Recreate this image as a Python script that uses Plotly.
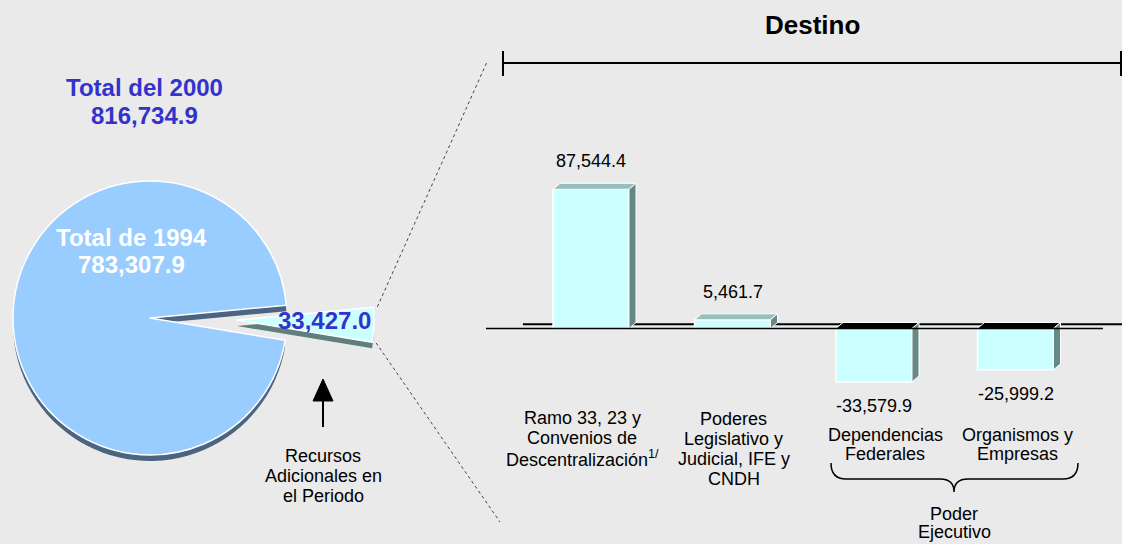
import plotly.graph_objects as go
import math

# Totales del gasto (millones de pesos)
total_1994 = 783307.9
adicional = 33427.0
total_2000 = 816734.9

pie_labels = ["Recursos Adicionales en el Periodo", "Total de 1994"]
pie_values = [adicional, total_1994]

# Destino de los recursos adicionales
categorias = [
    ["Ramo 33, 23 y", "Convenios de", "Descentralización<sup>1/</sup>"],
    ["Poderes", "Legislativo y", "Judicial, IFE y", "CNDH"],
    ["Dependencias", "Federales"],
    ["Organismos y", "Empresas"],
]
variacion = [87544.4, 5461.7, -33579.9, -25999.2]

# ---------------------------------------------------------------- canvas
W, H = 1122, 544
FONT = "Liberation Sans, Arial, sans-serif"
BG = "#eaeaea"


def px(x):
    return x / W


def py(y):
    return 1 - y / H


fig = go.Figure()

# ---------------------------------------------------------------- pie
R = 137            # pie radius in px
SHADOW = 6         # extrusion depth of the pie in px
MAIN_C = (150, 318)
SLICE_C = (237, 320)
SLICE_DIR = -2     # direction (math degrees) of the detached slice

slice_deg = 360 * adicional / sum(pie_values)
rotation = (90 - SLICE_DIR) - slice_deg / 2
CLEAR = "rgba(0,0,0,0)"


def pie_trace(center, colors, widths, drop=0):
    cx, cy = center
    cy += drop
    return go.Pie(
        values=pie_values, labels=pie_labels, sort=False,
        direction="clockwise", rotation=rotation,
        domain=dict(x=[px(cx - R), px(cx + R)], y=[py(cy + R), py(cy - R)]),
        marker=dict(colors=colors, line=dict(color="white", width=widths)),
        textinfo="none", textposition="none",
        hoverinfo="skip", showlegend=False,
    )


fig.add_trace(pie_trace(MAIN_C, [CLEAR, "#4b6480"], [0, 0], SHADOW))
fig.add_trace(pie_trace(MAIN_C, [CLEAR, "#99ccff"], [0, 1.5]))
fig.add_trace(pie_trace(SLICE_C, ["#5f7f7a", CLEAR], [0, 0], SHADOW))
fig.add_trace(pie_trace(SLICE_C, ["#ccffff", CLEAR], [1.5, 0]))

# ---------------------------------------------------------------- bars
pos = list(range(len(variacion)))
BAR_W = 0.537
DX = 0.0495        # depth of the 3-D faces along x (axis units)
DY = 3774          # depth of the 3-D faces along y (axis units)

fig.add_trace(go.Bar(
    x=pos, y=variacion, width=BAR_W,
    marker=dict(color="#ccffff", line=dict(color="white", width=1.5)),
    hoverinfo="skip", showlegend=False,
))

for p, v in zip(pos, variacion):
    x0, x1 = p - BAR_W / 2, p + BAR_W / 2
    top = max(v, 0)
    # top face
    fig.add_trace(go.Scatter(
        x=[x0, x0 + DX, x1 + DX, x1, x0],
        y=[top, top + DY, top + DY, top, top],
        mode="lines", fill="toself",
        fillcolor="#98bfbd" if v > 0 else "#000000",
        line=dict(color="white", width=1),
        hoverinfo="skip", showlegend=False,
    ))
    # side face
    fig.add_trace(go.Scatter(
        x=[x1, x1 + DX, x1 + DX, x1, x1],
        y=[0, DY, v + DY, v, 0],
        mode="lines", fill="toself", fillcolor="#658985",
        line=dict(color="white", width=1),
        hoverinfo="skip", showlegend=False,
    ))

# value labels
for p, v in zip(pos, variacion):
    fig.add_annotation(
        x=p, y=v, xref="x", yref="y", text=f"{v:,.1f}", showarrow=False,
        yanchor="middle", yshift=28 if v > 0 else -24,
        font=dict(family=FONT, size=18, color="#000000"),
    )

# category labels, one line at a time
label_x_shift = [-9, 1, 11, 2]
label_top = [418, 419, 435, 435]
label_step = [20, 20, 18.5, 18.5]
for p, lines, xs, y0, step in zip(pos, categorias, label_x_shift, label_top, label_step):
    for k, line in enumerate(lines):
        fig.add_annotation(
            x=p, xref="x", y=py(y0 + k * step), yref="paper", xshift=xs,
            text=line, showarrow=False, yanchor="middle",
            font=dict(family=FONT, size=18, color="#000000"),
        )

# ---------------------------------------------------------------- texts on the left
def text(x, y, s, size, color, bold=False):
    fig.add_annotation(
        x=px(x), y=py(y), xref="paper", yref="paper",
        text=f"<b>{s}</b>" if bold else s, showarrow=False,
        xanchor="center", yanchor="middle",
        font=dict(family=FONT, size=size, color=color),
    )


text(144, 87, "Total del 2000", 24, "#3333cc", True)
text(144, 115, f"{total_2000:,.1f}", 24, "#3333cc", True)
text(131, 237, "Total de 1994", 24, "#ffffff", True)
text(131, 265, f"{total_1994:,.1f}", 24, "#ffffff", True)
text(324, 320, f"{adicional:,.1f}", 24, "#3333cc", True)

text(323, 456, "Recursos", 18, "#000000")
text(323, 476, "Adicionales en", 18, "#000000")
text(323, 496, "el Periodo", 18, "#000000")

text(812, 25, "Destino", 26, "#000000", True)
text(954, 514, "Poder", 18, "#000000")
text(954, 532, "Ejecutivo", 18, "#000000")

# ---------------------------------------------------------------- shapes
shapes = []


def seg(x0, y0, x1, y1, width=2, dash="solid", color="#000000", layer="above"):
    shapes.append(dict(
        type="line", xref="paper", yref="paper",
        x0=px(x0), y0=py(y0), x1=px(x1), y1=py(y1), layer=layer,
        line=dict(color=color, width=width, dash=dash),
    ))


def path(pts, close=False, fill=None, width=1.5):
    d = "M " + " L ".join(f"{px(x):.5f},{py(y):.5f}" for x, y in pts)
    if close:
        d += " Z"
    shapes.append(dict(type="path", xref="paper", yref="paper", path=d,
                       fillcolor=fill, line=dict(color="#000000", width=width)))


# "Destino" bracket
seg(503, 63, 1121, 63)
seg(503, 51, 503, 76)
seg(1121, 51, 1121, 76)

# arrow pointing at the detached slice
seg(323, 427, 323, 398, width=2)
path([(313, 401), (333, 401), (323, 379)], close=True, fill="#000000", width=1)

# guides from the detached slice to the bar panel
a_top = math.radians(SLICE_DIR + slice_deg / 2)
a_bot = math.radians(SLICE_DIR - slice_deg / 2)
sx, sy = SLICE_C
seg(sx + (R + 4) * math.cos(a_top), sy - (R + 4) * math.sin(a_top), 487, 62,
    width=1, dash="dot", color="#444444")
seg(sx + (R + 4) * math.cos(a_bot), sy - (R + 4) * math.sin(a_bot), 500, 522,
    width=1, dash="dot", color="#444444")

# zero plane of the bar panel
shapes.append(dict(type="line", xref="x domain", yref="y", x0=0.058, x1=1,
                   y0=DY * 0.7, y1=DY * 0.7, layer="below",
                   line=dict(color="#000000", width=2)))
shapes.append(dict(type="line", xref="x domain", yref="y", x0=0, x1=0.97,
                   y0=0, y1=0, layer="above",
                   line=dict(color="#000000", width=1.5)))

# brace under the executive branch
pts = [(831, 463), (831, 479), (846, 479), (940, 479), (954, 479), (954, 492),
       (954, 479), (968, 479), (1063, 479), (1078, 479), (1078, 463)]
P = [f"{px(x):.5f},{py(y):.5f}" for x, y in pts]
brace = (f"M {P[0]} Q {P[1]} {P[2]} L {P[3]} Q {P[4]} {P[5]} "
         f"Q {P[6]} {P[7]} L {P[8]} Q {P[9]} {P[10]}")
shapes.append(dict(type="path", xref="paper", yref="paper", path=brace,
                   line=dict(color="#000000", width=1.5)))

# ---------------------------------------------------------------- layout
X_LEFT, X_RIGHT = 486, 1122
X0_PX, STEP_PX = 591, 141.5
Y_TOP, Y_BOT, ZERO_PX, PX_PER_UNIT = 130, 420, 328.5, 1.59e-3

fig.update_layout(
    width=W, height=H, margin=dict(l=0, r=0, t=0, b=0),
    paper_bgcolor=BG, plot_bgcolor="rgba(0,0,0,0)",
    showlegend=False, shapes=shapes,
    xaxis=dict(
        domain=[px(X_LEFT), px(X_RIGHT)],
        range=[(X_LEFT - X0_PX) / STEP_PX, (X_RIGHT - X0_PX) / STEP_PX],
        showgrid=False, zeroline=False, showticklabels=False, showline=False,
    ),
    yaxis=dict(
        domain=[py(Y_BOT), py(Y_TOP)],
        range=[-(Y_BOT - ZERO_PX) / PX_PER_UNIT, (ZERO_PX - Y_TOP) / PX_PER_UNIT],
        showgrid=False, zeroline=False, showticklabels=False, showline=False,
    ),
)

fig.write_html("out.html")
